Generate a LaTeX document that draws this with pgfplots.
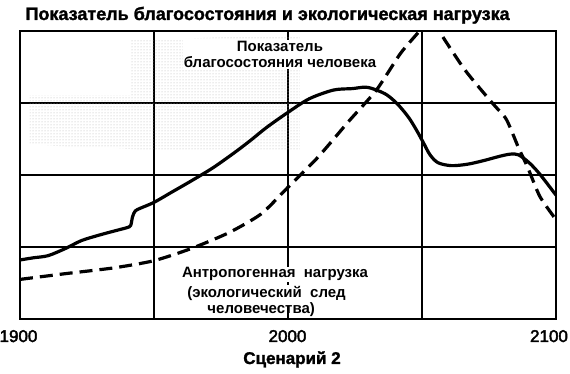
\documentclass[border=0pt]{standalone}
\usepackage{fontspec}
\setmainfont{Liberation Sans}
\newfontfamily\medfont[FakeBold=2.5]{Liberation Sans}
\newfontfamily\heavy[FakeBold=1.5]{Liberation Sans}
\usepackage{pgfplots}
\pgfplotsset{compat=1.18}
\usetikzlibrary{patterns}
\begin{document}
\begin{tikzpicture}[x=1pt,y=1pt]
\begin{axis}[
  at={(0,0)}, anchor=south west,
  scale only axis, width=536pt, height=288pt,
  xmin=1900, xmax=2100, ymin=0, ymax=4,
  xtick={1900,2000,2100}, xticklabels={},
  minor xtick={1950,2050},
  ytick={1,2,3}, yticklabels={},
  xmajorgrids, xminorgrids, ymajorgrids,
  grid style={black, line width=1.2pt},
  minor grid style={black, line width=1.2pt},
  major tick length=0pt, minor tick length=0pt,
  axis line style={black, line width=2pt},
  clip=true,
]
\fill[pattern=dots, pattern color=black!30] (axis cs:1941,3.875) -- (axis cs:2004.5,3.94) -- (axis cs:2004.5,2.35) -- (axis cs:1948.5,2.35) -- (axis cs:1903.7,2.42) -- (axis cs:1903.7,3.11) -- (axis cs:1941,3.11) -- cycle;
\addplot[black, line width=3.2pt, smooth, tension=0.5] coordinates {
(1900,0.82)(1905,0.85)(1910.5,0.88)(1917,0.98)(1923,1.09)(1930,1.17)(1936,1.23)(1940,1.27)(1941.3,1.30)(1942,1.42)(1943,1.50)(1945,1.54)(1950,1.62)(1957,1.77)(1964,1.92)(1972,2.10)(1980,2.31)(1986,2.48)(1992,2.66)(2000,2.87)(2008,3.06)(2017,3.18)(2024,3.20)(2029,3.22)(2033,3.18)(2037,3.11)(2041,2.98)(2045,2.80)(2048,2.62)(2050.5,2.45)(2053,2.28)(2056,2.17)(2061,2.13)(2067,2.15)(2073,2.20)(2079,2.26)(2083,2.29)(2086,2.28)(2090,2.17)(2094,2.01)(2100,1.72)
};
\addplot[black, line width=3.2pt, dash pattern=on 13pt off 7pt, smooth, tension=0.4] coordinates {
(1900,0.55)(1917,0.63)(1935,0.71)(1950,0.81)(1964,0.98)(1978,1.20)(1990,1.46)(2000,1.83)(2011,2.24)(2023,2.76)(2033,3.18)(2042,3.69)(2049.5,4.02)(2053,4.22)(2056,4.02)(2066,3.46)(2076,3.01)(2081,2.80)(2083,2.65)(2086,2.38)(2089.5,2.10)(2094,1.70)(2100,1.38)
};
\node[fill=white, inner sep=1pt, align=center, font=\bfseries\fontsize{15}{16.5}\selectfont, anchor=north] at (axis cs:1997,3.88) {Показатель\\благосостояния человека};
\node[fill=white, inner sep=1pt, font=\bfseries\fontsize{15}{16.5}\selectfont, anchor=base west] at (axis cs:1960,0.57) {Антропогенная\ \ нагрузка};
\node[fill=white, inner sep=1pt, font=\bfseries\fontsize{15}{16.5}\selectfont, anchor=base west] at (axis cs:1962,0.305) {(экологический\ \ след};
\node[fill=white, inner sep=1pt, font=\bfseries\fontsize{15}{16.5}\selectfont, anchor=base west] at (axis cs:1969.5,0.08) {человечества)};
\draw[black, line width=1.2pt] (axis cs:2000,0) -- (axis cs:2000,0.18);
\end{axis}
\node[font=\heavy\bfseries\fontsize{18}{18}\selectfont, anchor=base west] at (2,299) {Показатель благосостояния и экологическая нагрузка};
\node[font=\heavy\bfseries\fontsize{17}{17}\selectfont, anchor=base] at (272,-45) {Сценарий 2};
\node[font=\medfont\fontsize{17}{17}\selectfont, anchor=base] at (-1.5,-23) {1900};
\node[font=\medfont\fontsize{17}{17}\selectfont, anchor=base] at (267.5,-23) {2000};
\node[font=\medfont\fontsize{17}{17}\selectfont, anchor=base] at (529,-23) {2100};
\pgfresetboundingbox
\useasboundingbox (-20,-55) rectangle (550,319);
\end{tikzpicture}
\end{document}
